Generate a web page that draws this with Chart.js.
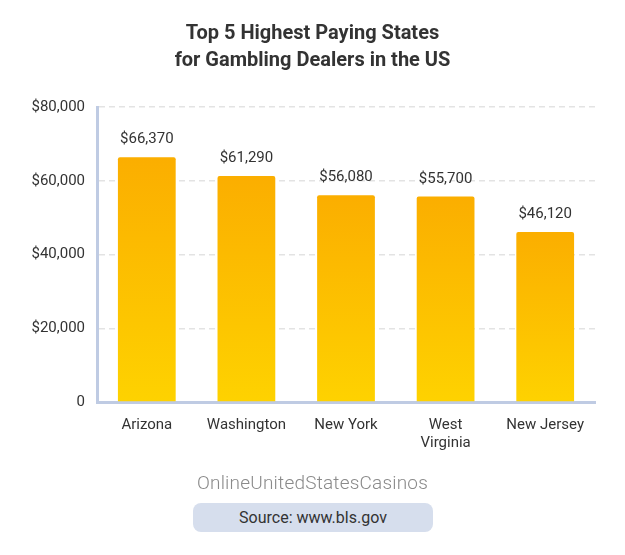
<!DOCTYPE html>
<html>
<head>
<meta charset="utf-8">
<script src="https://cdn.jsdelivr.net/npm/chart.js@4/dist/chart.umd.min.js"></script>
<style>
  html, body { margin: 0; padding: 0; background: #ffffff; }
  body { width: 625px; height: 555px; position: relative; overflow: hidden; font-family: Roboto, "Noto Sans", sans-serif; }
  #title { position: absolute; left: 0; top: 19px; width: 625px; text-align: center; font-weight: bold; font-size: 20px; line-height: 27px; color: #333333; }
  #wrap { position: absolute; left: 0; top: 0; width: 625px; height: 555px; }
  #brand { position: absolute; left: 0; top: 471px; width: 625px; text-align: center; font-size: 19px; font-weight: 300; color: #8a8a8a; letter-spacing: 0.2px; }
  #source { position: absolute; left: 193px; top: 503px; width: 240px; height: 29px; line-height: 29px; border-radius: 8px; background: #d6deed; text-align: center; font-size: 16px; color: #333333; }
</style>
</head>
<body>
<div id="wrap"><canvas id="c" width="625" height="555"></canvas></div>
<div id="title">Top 5 Highest Paying States<br>for Gambling Dealers in the US</div>
<div id="brand">OnlineUnitedStatesCasinos</div>
<div id="source">Source: www.bls.gov</div>
<script>
const categories = ["Arizona", "Washington", "New York", ["West", "Virginia"], "New Jersey"];
const salaries = [66370, 61290, 56080, 55700, 46120];
const yTickValues = [0, 20000, 40000, 60000, 80000];

function fmtMoney(v) { return '$' + v.toLocaleString('en-US'); }
function fmtTick(v) { return v === 0 ? '0' : fmtMoney(v); }

const valueLabels = {
  id: 'valueLabels',
  afterDatasetsDraw(chart) {
    const ctx = chart.ctx;
    const meta = chart.getDatasetMeta(0);
    ctx.save();
    ctx.font = '15px Roboto';
    ctx.fillStyle = '#333333';
    ctx.textAlign = 'center';
    ctx.textBaseline = 'alphabetic';
    meta.data.forEach((bar, i) => {
      ctx.fillText(fmtMoney(salaries[i]), bar.x, bar.y - 14);
    });
    ctx.restore();
  }
};

new Chart(document.getElementById('c'), {
  type: 'bar',
  data: {
    labels: categories,
    datasets: [{
      data: salaries,
      backgroundColor(context) {
        const chart = context.chart;
        const area = chart.chartArea;
        if (!area) return '#fcc000';
        const v = context.raw;
        const top = chart.scales.y.getPixelForValue(v);
        const bottom = chart.scales.y.getPixelForValue(0);
        const g = chart.ctx.createLinearGradient(0, top, 0, bottom);
        g.addColorStop(0, '#fbae00');
        g.addColorStop(1, '#fed200');
        return g;
      },
      borderWidth: 0,
      borderRadius: { topLeft: 2, topRight: 2, bottomLeft: 0, bottomRight: 0 },
      borderSkipped: 'bottom',
      barPercentage: 0.58,
      categoryPercentage: 1.0
    }]
  },
  options: {
    responsive: false,
    animation: false,
    events: [],
    layout: { padding: { left: 0, right: 30, top: 107, bottom: 93 } },
    plugins: { legend: { display: false }, tooltip: { enabled: false }, title: { display: false } },
    scales: {
      x: {
        grid: { display: false, drawTicks: false },
        border: { display: true, color: '#bfcbe3', width: 3 },
        ticks: { color: '#333333', font: { family: 'Roboto', size: 15 }, padding: 14, maxRotation: 0, autoSkip: false },
        afterFit(scale) { scale.height = 60; }
      },
      y: {
        min: 0, max: 80000,
        afterBuildTicks(scale) { scale.ticks = yTickValues.map(v => ({ value: v })); },
        grid: { color: '#e3e3e3', lineWidth: 1.5, drawTicks: false },
        border: { display: true, color: '#bfcbe3', width: 3, dash: [6, 4] },
        ticks: { color: '#333333', font: { family: 'Roboto', size: 15 }, padding: 12, callback: (v) => fmtTick(v) },
        afterFit(scale) { scale.width = 97; }
      }
    }
  },
  plugins: [valueLabels]
});
</script>
</body>
</html>
